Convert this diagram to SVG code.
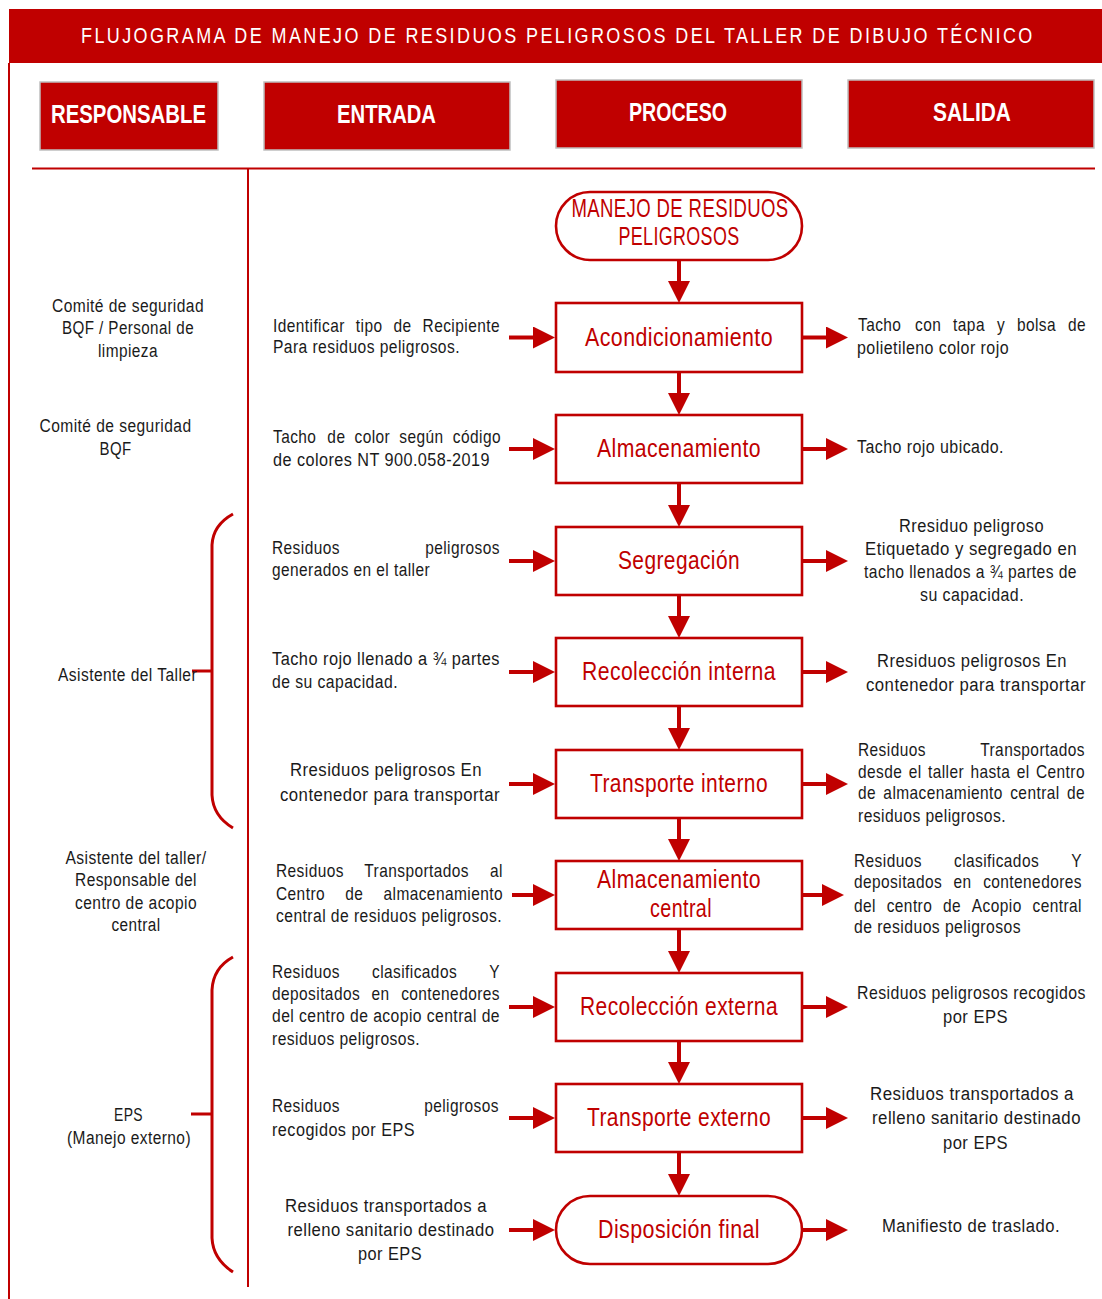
<svg xmlns="http://www.w3.org/2000/svg" width="1102" height="1299" viewBox="0 0 1102 1299">
<defs>
<style>
.f{font-family:"Liberation Sans Narrow","Arial Narrow","Liberation Sans",Arial,sans-serif}
.b{font-size:18px;fill:#1a1a1a;letter-spacing:0.5px}
.c{text-anchor:middle}
.e{text-anchor:end}
.lbl{font-size:25px;fill:#C00000;text-anchor:middle;letter-spacing:0.5px}
.hdr{font-size:25px;font-weight:bold;fill:#fff;text-anchor:middle}
.box{fill:#fff;stroke:#C00000;stroke-width:2.6}
.hbox{fill:#C00000;stroke:#BFBFBF;stroke-width:1.5}
.ln{stroke:#C00000;fill:none;stroke-width:2}
.arr{stroke:#C00000;stroke-width:4;fill:none;marker-end:url(#ah)}
.br{stroke:#C00000;stroke-width:3;fill:none}
</style>
<marker id="ah" markerUnits="userSpaceOnUse" markerWidth="24" markerHeight="24" refX="4" refY="11" orient="auto"><path d="M0,0 L22,11 L0,22 z" fill="#C00000"/></marker>
</defs>
<rect width="1102" height="1299" fill="#fff"/>

<g id="title">
<rect x="9" y="9" width="1093" height="54" fill="#C00000"/>
<text class="f" transform="translate(81,43) scale(0.8,1)" font-size="22.5" letter-spacing="3" fill="#fff">FLUJOGRAMA DE MANEJO DE RESIDUOS PELIGROSOS DEL TALLER DE DIBUJO TÉCNICO</text>
</g>

<g id="frame">
<line class="ln" x1="9" y1="63" x2="9" y2="1299"/>
<line class="ln" x1="32" y1="168.5" x2="1095" y2="168.5"/>
<line class="ln" x1="248" y1="169" x2="248" y2="1287"/>
</g>

<g id="headers">
<g id="h-responsable"><rect class="hbox" x="40" y="82" width="178" height="68"/><text class="f hdr" x="128.5" y="123" textLength="155" lengthAdjust="spacingAndGlyphs">RESPONSABLE</text></g>
<g id="h-entrada"><rect class="hbox" x="264" y="82" width="246" height="68"/><text class="f hdr" x="386.5" y="123" textLength="99" lengthAdjust="spacingAndGlyphs">ENTRADA</text></g>
<g id="h-proceso"><rect class="hbox" x="556" y="80" width="246" height="68"/><text class="f hdr" x="678" y="121" textLength="98" lengthAdjust="spacingAndGlyphs">PROCESO</text></g>
<g id="h-salida"><rect class="hbox" x="848" y="80" width="246" height="68"/><text class="f hdr" x="972" y="121" textLength="78" lengthAdjust="spacingAndGlyphs">SALIDA</text></g>
</g>

<g id="braces">
<path class="br" d="M233,514 Q213,525 212,545 L212,795 Q213,816 233,828 M192,671 L212,671"/>
<path class="br" d="M233,957 Q213,968 212,990 L212,1238 Q213,1259 233,1272 M191,1114 L212,1114"/>
</g>

<g id="responsables" class="f b">
<g id="r1" class="c">
<text x="128" y="312" textLength="152" lengthAdjust="spacingAndGlyphs">Comité de seguridad</text>
<text x="128" y="334" textLength="132" lengthAdjust="spacingAndGlyphs">BQF / Personal de</text>
<text x="128" y="357" textLength="60" lengthAdjust="spacingAndGlyphs">limpieza</text>
</g>
<g id="r2" class="c">
<text x="115.5" y="432" textLength="152" lengthAdjust="spacingAndGlyphs">Comité de seguridad</text>
<text x="115.5" y="455" textLength="32" lengthAdjust="spacingAndGlyphs">BQF</text>
</g>
<g id="r3" class="c">
<text x="127.5" y="681" textLength="139" lengthAdjust="spacingAndGlyphs">Asistente del Taller</text>
</g>
<g id="r4" class="c">
<text x="136" y="864" textLength="141" lengthAdjust="spacingAndGlyphs">Asistente del taller/</text>
<text x="136" y="886" textLength="122" lengthAdjust="spacingAndGlyphs">Responsable del</text>
<text x="136" y="909" textLength="122" lengthAdjust="spacingAndGlyphs">centro de acopio</text>
<text x="136" y="931" textLength="49" lengthAdjust="spacingAndGlyphs">central</text>
</g>
<g id="r5" class="c">
<text x="128.5" y="1121" textLength="29" lengthAdjust="spacingAndGlyphs">EPS</text>
<text x="129" y="1144" textLength="124" lengthAdjust="spacingAndGlyphs">(Manejo externo)</text>
</g>
</g>

<g id="entradas" class="f b">
<g id="in1">
<text transform="translate(273,332) scale(0.86,1)"><tspan x="0">Identificar</tspan> <tspan x="96.3">tipo</tspan> <tspan x="140.1">de</tspan> <tspan x="263.9" class="e">Recipiente</tspan></text>
<text x="273" y="353" textLength="187" lengthAdjust="spacingAndGlyphs">Para residuos peligrosos.</text>
</g>
<g id="in2">
<text transform="translate(273,443) scale(0.86,1)"><tspan x="0">Tacho</tspan> <tspan x="63.2">de</tspan> <tspan x="94.8">color</tspan> <tspan x="146.9">según</tspan> <tspan x="265.1" class="e">código</tspan></text>
<text x="273" y="466" textLength="217" lengthAdjust="spacingAndGlyphs">de colores NT 900.058-2019</text>
</g>
<g id="in3">
<text transform="translate(272,554) scale(0.86,1)"><tspan x="0">Residuos</tspan> <tspan x="265.1" class="e">peligrosos</tspan></text>
<text x="272" y="576" textLength="158" lengthAdjust="spacingAndGlyphs">generados en el taller</text>
</g>
<g id="in4">
<text x="272" y="665" textLength="228" lengthAdjust="spacingAndGlyphs">Tacho rojo llenado a ¾ partes</text>
<text x="272" y="688" textLength="126" lengthAdjust="spacingAndGlyphs">de su capacidad.</text>
</g>
<g id="in5" class="c">
<text x="386" y="776" textLength="192" lengthAdjust="spacingAndGlyphs">Rresiduos peligrosos En</text>
<text x="390" y="801" textLength="220" lengthAdjust="spacingAndGlyphs">contenedor para transportar</text>
</g>
<g id="in6">
<text transform="translate(276,877) scale(0.86,1)"><tspan x="0">Residuos</tspan> <tspan x="102.7">Transportados</tspan> <tspan x="263.9" class="e">al</tspan></text>
<text transform="translate(276,900) scale(0.86,1)"><tspan x="0">Centro</tspan> <tspan x="80.5">de</tspan> <tspan x="263.9" class="e">almacenamiento</tspan></text>
<text x="276" y="922" textLength="226" lengthAdjust="spacingAndGlyphs">central de residuos peligrosos.</text>
</g>
<g id="in7">
<text transform="translate(272,978) scale(0.86,1)"><tspan x="0">Residuos</tspan> <tspan x="116.3">clasificados</tspan> <tspan x="265.1" class="e">Y</tspan></text>
<text transform="translate(272,1000) scale(0.86,1)"><tspan x="0">depositados</tspan> <tspan x="115.8">en</tspan> <tspan x="265.1" class="e">contenedores</tspan></text>
<text x="272" y="1022" textLength="228" lengthAdjust="spacingAndGlyphs">del centro de acopio central de</text>
<text x="272" y="1045" textLength="148" lengthAdjust="spacingAndGlyphs">residuos peligrosos.</text>
</g>
<g id="in8">
<text transform="translate(272,1112) scale(0.86,1)"><tspan x="0">Residuos</tspan> <tspan x="263.9" class="e">peligrosos</tspan></text>
<text x="272" y="1136" textLength="143" lengthAdjust="spacingAndGlyphs">recogidos por EPS</text>
</g>
<g id="in9" class="c">
<text x="386" y="1212" textLength="202" lengthAdjust="spacingAndGlyphs">Residuos transportados a</text>
<text x="391" y="1236" textLength="207" lengthAdjust="spacingAndGlyphs">relleno sanitario destinado</text>
<text x="390" y="1260" textLength="64" lengthAdjust="spacingAndGlyphs">por EPS</text>
</g>
</g>

<g id="salidas" class="f b">
<g id="out1">
<text transform="translate(858,331) scale(0.86,1)"><tspan x="0">Tacho</tspan> <tspan x="66.3">con</tspan> <tspan x="110.6">tapa</tspan> <tspan x="161.5">y</tspan> <tspan x="184.8">bolsa</tspan> <tspan x="265.1" class="e">de</tspan></text>
<text x="857" y="354" textLength="152" lengthAdjust="spacingAndGlyphs">polietileno color rojo</text>
</g>
<g id="out2">
<text x="857" y="453" textLength="147" lengthAdjust="spacingAndGlyphs">Tacho rojo ubicado.</text>
</g>
<g id="out3" class="c">
<text x="971.5" y="532" textLength="145" lengthAdjust="spacingAndGlyphs">Rresiduo peligroso</text>
<text x="971" y="555" textLength="212" lengthAdjust="spacingAndGlyphs">Etiquetado y segregado en</text>
<text transform="translate(970.5,578) scale(0.869,1)">tacho llenados a ¾ partes de</text>
<text x="972" y="601" textLength="104" lengthAdjust="spacingAndGlyphs">su capacidad.</text>
</g>
<g id="out4" class="c">
<text x="972" y="667" textLength="190" lengthAdjust="spacingAndGlyphs">Rresiduos peligrosos En</text>
<text x="976" y="691" textLength="220" lengthAdjust="spacingAndGlyphs">contenedor para transportar</text>
</g>
<g id="out5">
<text transform="translate(858,756) scale(0.86,1)"><tspan x="0">Residuos</tspan> <tspan x="263.9" class="e">Transportados</tspan></text>
<text transform="translate(858,778) scale(0.86,1)"><tspan x="0">desde</tspan> <tspan x="58.9">el</tspan> <tspan x="81.3">taller</tspan> <tspan x="130.7">hasta</tspan> <tspan x="184.6">el</tspan> <tspan x="263.9" class="e">Centro</tspan></text>
<text transform="translate(858,799) scale(0.86,1)"><tspan x="0">de</tspan> <tspan x="29.5">almacenamiento</tspan> <tspan x="177">central</tspan> <tspan x="263.9" class="e">de</tspan></text>
<text x="858" y="822" textLength="148" lengthAdjust="spacingAndGlyphs">residuos peligrosos.</text>
</g>
<g id="out6">
<text transform="translate(854,867) scale(0.86,1)"><tspan x="0">Residuos</tspan> <tspan x="116.3">clasificados</tspan> <tspan x="265.1" class="e">Y</tspan></text>
<text transform="translate(854,888) scale(0.86,1)"><tspan x="0">depositados</tspan> <tspan x="115.8">en</tspan> <tspan x="265.1" class="e">contenedores</tspan></text>
<text transform="translate(854,912) scale(0.86,1)"><tspan x="0">del</tspan> <tspan x="38">centro</tspan> <tspan x="103.5">de</tspan> <tspan x="137">Acopio</tspan> <tspan x="265.1" class="e">central</tspan></text>
<text x="854" y="933" textLength="167" lengthAdjust="spacingAndGlyphs">de residuos peligrosos</text>
</g>
<g id="out7" class="c">
<text transform="translate(971.5,999) scale(0.882,1)">Residuos peligrosos recogidos</text>
<text x="975.5" y="1023" textLength="65" lengthAdjust="spacingAndGlyphs">por EPS</text>
</g>
<g id="out8" class="c">
<text x="972" y="1100" textLength="204" lengthAdjust="spacingAndGlyphs">Residuos transportados a</text>
<text x="976.5" y="1124" textLength="209" lengthAdjust="spacingAndGlyphs">relleno sanitario destinado</text>
<text x="975.5" y="1149" textLength="65" lengthAdjust="spacingAndGlyphs">por EPS</text>
</g>
<g id="out9" class="c">
<text x="971" y="1232" textLength="178" lengthAdjust="spacingAndGlyphs">Manifiesto de traslado.</text>
</g>
</g>

<g id="process" class="f">
<g id="n0"><rect class="box" x="556" y="192" width="246" height="68" rx="34"/><text class="lbl" x="680" y="217" textLength="217" lengthAdjust="spacingAndGlyphs">MANEJO DE RESIDUOS</text><text class="lbl" x="679" y="245" textLength="121" lengthAdjust="spacingAndGlyphs">PELIGROSOS</text></g>
<g id="n1"><rect class="box" x="556" y="303" width="246" height="69"/><text class="lbl" x="679" y="346" textLength="188" lengthAdjust="spacingAndGlyphs">Acondicionamiento</text></g>
<g id="n2"><rect class="box" x="556" y="415" width="246" height="68"/><text class="lbl" x="679" y="457" textLength="164" lengthAdjust="spacingAndGlyphs">Almacenamiento</text></g>
<g id="n3"><rect class="box" x="556" y="527" width="246" height="68"/><text class="lbl" x="679" y="569" textLength="122" lengthAdjust="spacingAndGlyphs">Segregación</text></g>
<g id="n4"><rect class="box" x="556" y="638" width="246" height="68"/><text class="lbl" x="679" y="680" textLength="194" lengthAdjust="spacingAndGlyphs">Recolección interna</text></g>
<g id="n5"><rect class="box" x="556" y="750" width="246" height="68"/><text class="lbl" x="679" y="792" textLength="178" lengthAdjust="spacingAndGlyphs">Transporte interno</text></g>
<g id="n6"><rect class="box" x="556" y="861" width="246" height="68"/><text class="lbl" x="679" y="888" textLength="164" lengthAdjust="spacingAndGlyphs">Almacenamiento</text><text class="lbl" x="681" y="917" textLength="62" lengthAdjust="spacingAndGlyphs">central</text></g>
<g id="n7"><rect class="box" x="556" y="973" width="246" height="68"/><text class="lbl" x="679" y="1015" textLength="198" lengthAdjust="spacingAndGlyphs">Recolección externa</text></g>
<g id="n8"><rect class="box" x="556" y="1084" width="246" height="68"/><text class="lbl" x="679" y="1126" textLength="184" lengthAdjust="spacingAndGlyphs">Transporte externo</text></g>
<g id="n9"><rect class="box" x="556" y="1196" width="246" height="68" rx="34"/><text class="lbl" x="679" y="1238" textLength="162" lengthAdjust="spacingAndGlyphs">Disposición final</text></g>
</g>

<g id="connectors">
<path class="arr" d="M679,261 V285"/>
<path class="arr" d="M679,373 V397"/>
<path class="arr" d="M679,484 V509"/>
<path class="arr" d="M679,596 V620"/>
<path class="arr" d="M679,707 V732"/>
<path class="arr" d="M679,819 V843"/>
<path class="arr" d="M679,930 V955"/>
<path class="arr" d="M679,1042 V1066"/>
<path class="arr" d="M679,1153 V1178"/>
<path class="arr" d="M509,337.5 H537"/>
<path class="arr" d="M509,449 H537"/>
<path class="arr" d="M509,561 H537"/>
<path class="arr" d="M509,672 H537"/>
<path class="arr" d="M509,784 H537"/>
<path class="arr" d="M512,895 H537"/>
<path class="arr" d="M509,1007 H537"/>
<path class="arr" d="M509,1118 H537"/>
<path class="arr" d="M509,1230 H537"/>
<path class="arr" d="M803,337.5 H830"/>
<path class="arr" d="M803,449 H830"/>
<path class="arr" d="M803,561 H830"/>
<path class="arr" d="M803,672 H830"/>
<path class="arr" d="M803,784 H830"/>
<path class="arr" d="M803,895 H826"/>
<path class="arr" d="M803,1007 H830"/>
<path class="arr" d="M803,1118 H830"/>
<path class="arr" d="M803,1230 H830"/>
</g>
</svg>
